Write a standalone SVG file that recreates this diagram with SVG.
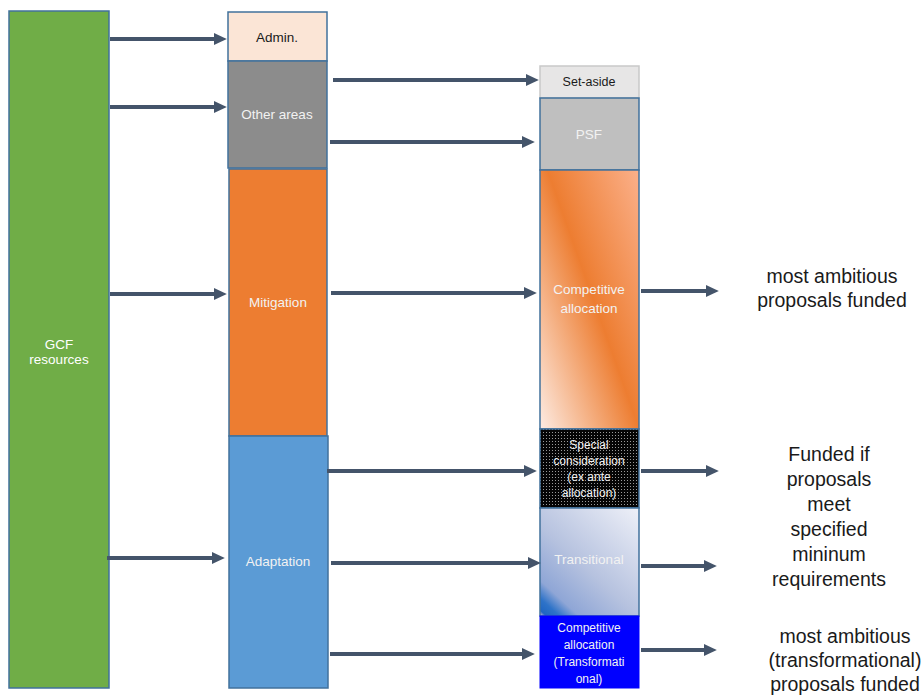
<svg xmlns="http://www.w3.org/2000/svg" width="922" height="697" viewBox="0 0 922 697">
<style>
.box{stroke:#41719C;stroke-width:1.5}
.t{font-family:"Liberation Sans",Arial,sans-serif;font-size:13.5px;text-anchor:middle;fill:#ffffff}
.tw{fill:#F2F2F2}
.tb{fill:#1a1a1a}
.big{font-family:"Liberation Sans",Arial,sans-serif;font-size:19.5px;text-anchor:middle;fill:#1a1a1a}
.c line{stroke:#44546A;stroke-width:4;marker-end:url(#ah)}
</style>
<defs>
<marker id="ah" markerWidth="4" markerHeight="4" refX="1" refY="2" orient="auto" markerUnits="strokeWidth" viewBox="0 0 4 4">
<path d="M0,0.5 L3.2,2 L0,3.5 Z" fill="#44546A"/>
</marker>
<linearGradient id="gOr" gradientUnits="userSpaceOnUse" x1="502" y1="321" x2="671" y2="261">
<stop offset="0" stop-color="#FDEBE2"/>
<stop offset="0.52" stop-color="#ED7D31"/>
<stop offset="1" stop-color="#FBB08A"/>
</linearGradient>
<linearGradient id="gTr" gradientUnits="userSpaceOnUse" x1="639" y1="508" x2="540" y2="616">
<stop offset="0" stop-color="#EEF0F8"/>
<stop offset="0.55" stop-color="#B6C2DF"/>
<stop offset="0.82" stop-color="#8FA6D6"/>
<stop offset="0.91" stop-color="#2E73C8"/>
<stop offset="0.97" stop-color="#1F66C2"/>
<stop offset="1" stop-color="#E8C8D8"/>
</linearGradient>
<pattern id="dots" width="3" height="3" patternUnits="userSpaceOnUse">
<rect width="3" height="3" fill="#050505"/>
<rect x="0" y="0" width="1" height="1" fill="#9a9a9a"/>
</pattern>
</defs>
<g id="gcf"><rect class="box" x="9" y="11" width="100" height="677" fill="#70AD47"/><text class="t" x="59" y="349">GCF</text><text class="t" x="59" y="364">resources</text></g>
<g id="admin"><rect class="box" x="228" y="12" width="99" height="49" fill="#FBE5D6"/><text class="t tb" x="277" y="42">Admin.</text></g>
<g id="other"><rect class="box" x="228" y="61" width="99" height="107" fill="#8C8C8C"/><text class="t tw" x="277" y="119">Other areas</text></g>
<g id="mitigation"><rect class="box" x="229" y="169" width="98" height="267" fill="#ED7D31"/><text class="t tw" x="278" y="307">Mitigation</text></g>
<g id="adaptation"><rect class="box" x="229" y="436" width="99" height="252" fill="#5B9BD5"/><text class="t tw" x="278" y="566">Adaptation</text></g>
<g id="setaside"><rect x="540" y="66" width="99" height="32" fill="#E7E6E6" stroke="#C9C9C9" stroke-width="1.5"/><text class="t tb" x="589" y="86" style="font-size:12.5px">Set-aside</text></g>
<g id="psf"><rect class="box" x="540" y="98" width="99" height="72" fill="#BFBFBF"/><text class="t tw" x="589" y="139">PSF</text></g>
<g id="compalloc"><rect class="box" x="540" y="170" width="99" height="259" fill="url(#gOr)"/><text class="t tw" x="589" y="294">Competitive</text><text class="t tw" x="589" y="313">allocation</text></g>
<g id="special"><rect class="box" x="540" y="429" width="99" height="79" fill="url(#dots)"/><text class="t tw" x="589" y="449" style="font-size:12px">Special</text><text class="t tw" x="589" y="465" style="font-size:12px">consideration</text><text class="t tw" x="589" y="481" style="font-size:12px">(ex ante</text><text class="t tw" x="589" y="497" style="font-size:12px">allocation)</text></g>
<g id="transitional"><rect class="box" x="540" y="508" width="99" height="108" fill="url(#gTr)"/><text class="t tw" x="589" y="564">Transitional</text></g>
<g id="comptrans"><rect x="540" y="616" width="99" height="72" fill="#0000FF" stroke="#0000FF"/><text class="t tw" x="589" y="632" style="font-size:12px">Competitive</text><text class="t tw" x="589" y="649" style="font-size:12px">allocation</text><text class="t tw" x="589" y="666" style="font-size:12px">(Transformati</text><text class="t tw" x="589" y="683" style="font-size:12px">onal)</text></g>
<g id="connectors" class="c">
<line x1="110" y1="39" x2="218" y2="39"/>
<line x1="110" y1="107" x2="218" y2="107"/>
<line x1="110" y1="294" x2="218" y2="294"/>
<line x1="107" y1="558" x2="216" y2="558"/>
<line x1="333" y1="80" x2="530" y2="80"/>
<line x1="330" y1="142" x2="526" y2="142"/>
<line x1="331" y1="293" x2="528" y2="293"/>
<line x1="327" y1="471" x2="528" y2="471"/>
<line x1="331" y1="563" x2="532" y2="563"/>
<line x1="330" y1="654" x2="526" y2="654"/>
<line x1="641" y1="291" x2="710" y2="291"/>
<line x1="641" y1="471" x2="710" y2="471"/>
<line x1="641" y1="566" x2="708" y2="566"/>
<line x1="641" y1="650" x2="708" y2="650"/>
</g>
<g id="notes">
<text class="big" x="832" y="283">most ambitious</text>
<text class="big" x="832" y="307">proposals funded</text>
<text class="big" x="829" y="461">Funded if</text>
<text class="big" x="829" y="486">proposals</text>
<text class="big" x="829" y="511">meet</text>
<text class="big" x="829" y="536">specified</text>
<text class="big" x="829" y="561">mininum</text>
<text class="big" x="829" y="586">requirements</text>
<text class="big" x="845" y="643">most ambitious</text>
<text class="big" x="845" y="667">(transformational)</text>
<text class="big" x="845" y="691">proposals funded</text>
</g>
</svg>
